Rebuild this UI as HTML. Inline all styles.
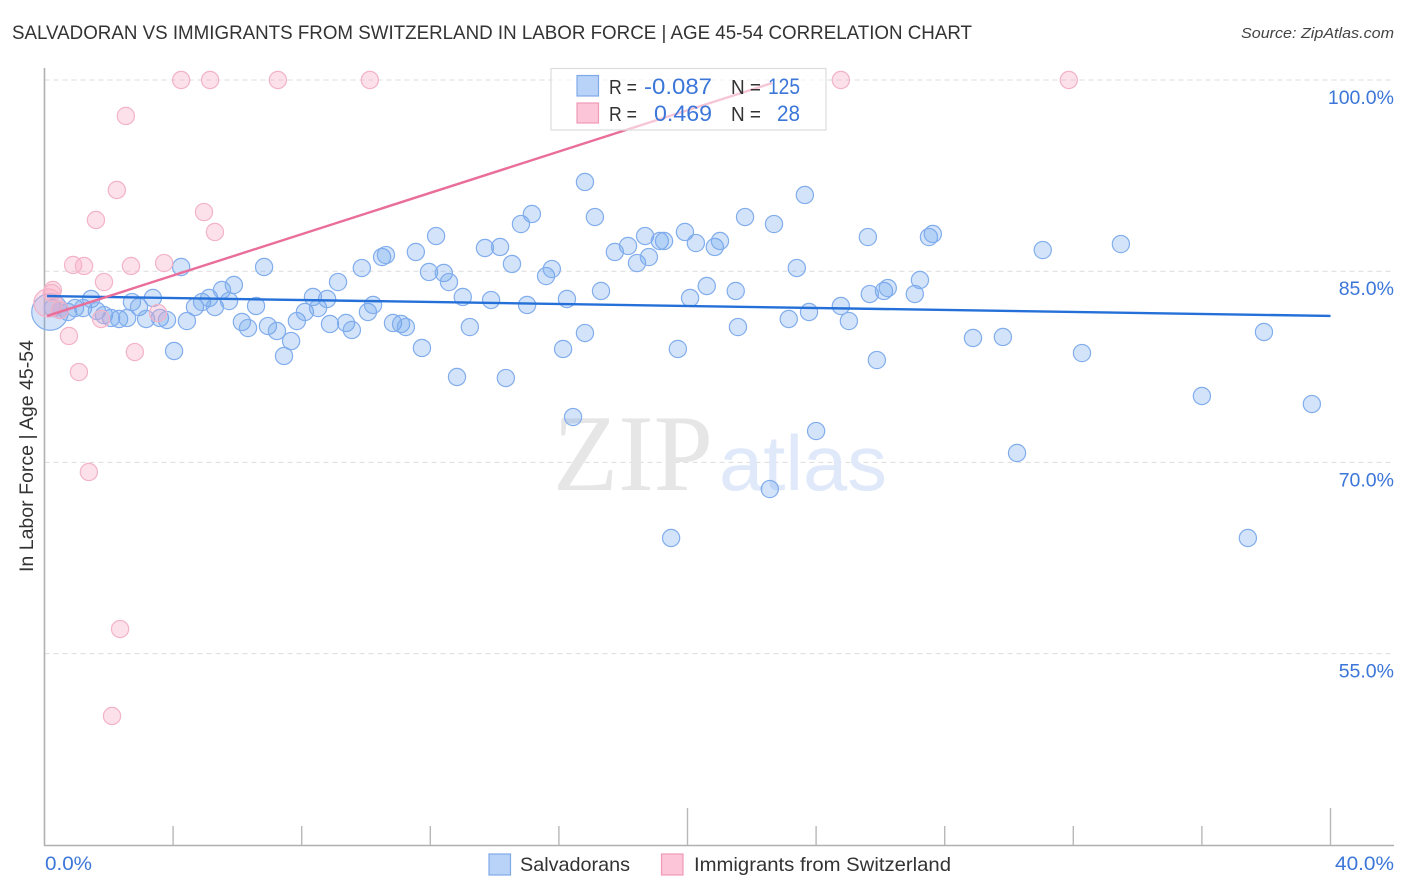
<!DOCTYPE html>
<html lang="en">
<head>
<meta charset="utf-8">
<title>Salvadoran vs Immigrants from Switzerland in Labor Force | Age 45-54 Correlation Chart</title>
<style>
html,body{margin:0;padding:0;background:#fff;}
svg{display:block;font-family:"Liberation Sans",sans-serif;}
</style>
</head>
<body>
<svg id="chart" xmlns="http://www.w3.org/2000/svg" width="1406" height="892" viewBox="0 0 1406 892">
  <rect x="0" y="0" width="1406" height="892" fill="#ffffff"/>
  <text x="12" y="39" font-size="19" fill="#333333" textLength="960" lengthAdjust="spacingAndGlyphs">SALVADORAN VS IMMIGRANTS FROM SWITZERLAND IN LABOR FORCE | AGE 45-54 CORRELATION CHART</text>
  <text x="1241" y="38" font-size="15" font-style="italic" fill="#444444" textLength="153" lengthAdjust="spacingAndGlyphs">Source: ZipAtlas.com</text>
  <g id="grid"></g>
  <g>
    <text x="553" y="490" font-family="'Liberation Serif',serif" font-size="109" fill="#e6e6e6" textLength="160" lengthAdjust="spacingAndGlyphs">ZIP</text>
    <text x="719" y="490" font-size="78" fill="#dfe9fa" textLength="168" lengthAdjust="spacingAndGlyphs">atlas</text>
  </g>
  <g id="axes"></g>
  <g id="marks-blue"></g>
  <g id="marks-pink"></g>
  <g id="trends"></g>
  <g id="tick-labels"></g>
  <text transform="translate(33,572) rotate(-90)" font-size="19" fill="#333333" textLength="232" lengthAdjust="spacingAndGlyphs">In Labor Force | Age 45-54</text>

  <g>
    <rect x="551" y="68.5" width="275" height="61.5" fill="#ffffff" fill-opacity="0.6" stroke="#dddddd" stroke-width="1.2"/>
    <rect x="577" y="75.5" width="21.5" height="20.5" fill="#b9d3f8" stroke="#7eaae8" stroke-width="1.2"/>
    <rect x="577" y="103" width="21.5" height="20" fill="#fcc5d8" stroke="#f09ab8" stroke-width="1.2"/>
    <text x="609" y="94" font-size="20" fill="#333333" textLength="28" lengthAdjust="spacingAndGlyphs">R =</text>
    <text x="644" y="94" font-size="22" fill="#3b76d8" textLength="68" lengthAdjust="spacingAndGlyphs">-0.087</text>
    <text x="731" y="94" font-size="20" fill="#333333" textLength="30" lengthAdjust="spacingAndGlyphs">N =</text>
    <text x="768" y="94" font-size="22" fill="#3b76d8" textLength="32" lengthAdjust="spacingAndGlyphs">125</text>
    <text x="609" y="121" font-size="20" fill="#333333" textLength="28" lengthAdjust="spacingAndGlyphs">R =</text>
    <text x="654" y="121" font-size="22" fill="#3b76d8" textLength="58" lengthAdjust="spacingAndGlyphs">0.469</text>
    <text x="731" y="121" font-size="20" fill="#333333" textLength="30" lengthAdjust="spacingAndGlyphs">N =</text>
    <text x="777" y="121" font-size="22" fill="#3b76d8" textLength="23" lengthAdjust="spacingAndGlyphs">28</text>
  </g>

  <g>
    <rect x="489" y="854" width="21.5" height="21" fill="#b9d3f8" stroke="#7eaae8" stroke-width="1.2"/>
    <text x="520" y="871" font-size="19.5" fill="#333333" textLength="110" lengthAdjust="spacingAndGlyphs">Salvadorans</text>
    <rect x="661.5" y="854" width="21.5" height="21" fill="#fcc5d8" stroke="#f09ab8" stroke-width="1.2"/>
    <text x="694" y="871" font-size="19.5" fill="#333333" textLength="257" lengthAdjust="spacingAndGlyphs">Immigrants from Switzerland</text>
  </g>
</svg>
<script>
var xTickValues = [0, 4, 8, 12, 16, 20, 24, 28, 32, 36, 40];
var yGridValues = [100, 85, 70, 55];
var yTickLabels = ['100.0%', '85.0%', '70.0%', '55.0%'];
var xTickLabels = ['0.0%', '40.0%'];

var salvadoranX = [0.17,0.26,0.48,0.73,0.95,1.20,1.45,1.63,1.85,2.07,2.32,2.57,2.72,2.94,3.16,3.37,3.59,3.81,4.03,4.25,4.43,4.68,4.90,5.12,5.30,5.52,5.89,5.74,6.14,6.33,6.58,6.83,6.95,7.23,7.45,7.67,7.85,8.10,8.35,8.51,8.79,8.88,9.13,9.38,9.56,9.87,10.06,10.22,10.50,10.62,10.84,11.09,11.24,11.55,11.74,11.96,12.18,12.42,12.58,12.83,13.01,13.23,13.70,13.89,14.17,14.35,14.54,14.82,15.01,15.16,15.60,15.78,16.13,16.25,16.44,16.81,16.81,17.12,17.31,17.74,18.15,18.43,18.68,18.80,19.14,19.27,19.49,19.70,19.92,20.08,20.26,20.60,20.85,21.01,21.50,21.57,21.79,22.56,22.69,23.15,23.40,23.65,23.78,24.00,24.77,25.02,25.61,25.67,25.89,26.11,26.23,27.07,27.23,27.51,27.63,28.88,29.81,30.25,31.05,32.27,33.48,36.00,37.43,37.93,39.42];
var salvadoranY = [81.80,82.11,81.96,81.80,82.11,82.11,82.82,81.88,81.56,81.33,81.25,81.33,82.58,82.19,81.25,82.90,81.33,81.17,78.74,85.33,81.09,82.19,82.58,82.90,82.19,83.53,83.92,82.66,81.02,80.54,82.27,85.33,80.70,80.31,78.35,79.52,81.09,81.80,82.98,82.11,82.82,80.86,84.15,80.94,80.39,85.25,81.80,82.35,86.11,86.27,80.94,80.86,80.62,86.51,78.98,84.94,87.76,84.86,84.15,76.70,82.98,80.62,86.82,82.74,86.90,76.62,85.57,88.70,82.35,89.49,84.62,85.17,78.90,82.82,73.56,92.00,80.15,89.25,83.45,86.51,86.98,85.64,87.76,86.11,87.37,87.37,64.07,78.90,88.08,82.90,87.21,83.84,86.90,87.37,83.45,80.62,89.25,67.91,88.70,81.25,85.25,90.98,81.80,72.46,82.27,81.09,87.68,83.21,78.03,83.45,83.68,83.21,84.31,87.68,87.92,79.76,79.84,70.74,86.66,78.58,87.13,75.21,64.07,80.23,74.58];
var salvadoranLargeIndex = [0];
var salvadoranLargeWeight = [4.5];

var immigrantX = [0.11,0.26,0.23,0.48,0.76,0.89,1.23,1.07,1.38,1.60,1.76,1.85,2.10,2.25,2.35,2.53,2.69,2.81,3.53,3.72,4.25,4.96,5.15,5.30,7.26,10.12,24.77,31.86];
var immigrantY = [82.51,83.53,83.29,81.96,79.92,85.49,85.41,77.09,69.25,89.02,81.25,84.15,50.11,91.37,56.93,97.18,85.41,78.66,81.72,85.64,100,89.64,100,88.08,100,100,100,100];
var immigrantLargeIndex = [0];
var immigrantLargeWeight = [2.7];

var salvadoranTrendX = [0.08, 40];
var salvadoranTrendY = [83.05, 81.49];
var immigrantTrendX = [0.08, 22.63];
var immigrantTrendY = [81.49, 99.76];

var NS = 'http://www.w3.org/2000/svg';
function xScale(v) { return 44.5 + v * 32.15; }
function yScale(v) { return 80 + (100 - v) * 12.747; }
function make(tag, attrs, parent) {
  var el = document.createElementNS(NS, tag);
  for (var k in attrs) { el.setAttribute(k, attrs[k]); }
  parent.appendChild(el);
  return el;
}

var grid = document.getElementById('grid');
yGridValues.forEach(function (v) {
  var g = make('line', {x1: 44.5, x2: 1394, y1: yScale(v), y2: yScale(v), stroke: '#dcdcdc', 'stroke-width': 1, 'stroke-dasharray': '5 4'}, grid);
  
  
});

var axes = document.getElementById('axes');
var yAxisLine = make('line', {x1: 44.5, x2: 44.5, y1: 68, y2: 845.5, stroke: '#b0b0b0', 'stroke-width': 1.6}, axes);


var xAxisLine = make('line', {x1: 44, x2: 1394, y1: 845.5, y2: 845.5, stroke: '#b0b0b0', 'stroke-width': 1.6}, axes);


xTickValues.forEach(function (v) {
  if (v === 0) { return; }
  var tall = v === 20 || v === 40;
  var t = make('line', {x1: xScale(v), x2: xScale(v), y1: tall ? 808 : 826, y2: 845, stroke: '#b8b8b8', 'stroke-width': 1.4}, axes);
  
  
});

function radius(i, indexes, weights) {
  var p = indexes.indexOf(i);
  return 8.6 * Math.sqrt(p >= 0 ? weights[p] : 1);
}

var blue = document.getElementById('marks-blue');
salvadoranX.forEach(function (v, i) {
  var c = make('circle', {cx: xScale(v), cy: yScale(salvadoranY[i]), r: radius(i, salvadoranLargeIndex, salvadoranLargeWeight), fill: 'rgba(110,165,240,0.3)', stroke: '#82adec', 'stroke-width': 1.2}, blue);
  
  
});

var pink = document.getElementById('marks-pink');
immigrantX.forEach(function (v, i) {
  var c = make('circle', {cx: xScale(v), cy: yScale(immigrantY[i]), r: radius(i, immigrantLargeIndex, immigrantLargeWeight), fill: 'rgba(248,170,195,0.35)', stroke: '#f2b3c7', 'stroke-width': 1.2}, pink);
  
  
});

var trends = document.getElementById('trends');
var blueTrend = make('line', {x1: xScale(salvadoranTrendX[0]), y1: yScale(salvadoranTrendY[0]), x2: xScale(salvadoranTrendX[1]), y2: yScale(salvadoranTrendY[1]), stroke: '#2470d8', 'stroke-width': 2.4}, trends);


var pinkTrend = make('line', {x1: xScale(immigrantTrendX[0]), y1: yScale(immigrantTrendY[0]), x2: xScale(immigrantTrendX[1]), y2: yScale(immigrantTrendY[1]), stroke: '#e96e9a', 'stroke-width': 2.4}, trends);



var tickLabels = document.getElementById('tick-labels');
yGridValues.forEach(function (v, i) {
  var t = make('text', {x: 1394, y: yScale(v) + 24, 'font-size': 19.5, fill: '#3b76d8', 'text-anchor': 'end'}, tickLabels);
  t.textContent = yTickLabels[i];
  
  
});
var x0Label = make('text', {x: 45, y: 870, 'font-size': 19.5, fill: '#3b76d8', textLength: 47, lengthAdjust: 'spacingAndGlyphs'}, tickLabels);
x0Label.textContent = xTickLabels[0];


var x1Label = make('text', {x: 1335, y: 870, 'font-size': 19.5, fill: '#3b76d8', textLength: 59, lengthAdjust: 'spacingAndGlyphs'}, tickLabels);
x1Label.textContent = xTickLabels[1];


</script>
</body>
</html>
